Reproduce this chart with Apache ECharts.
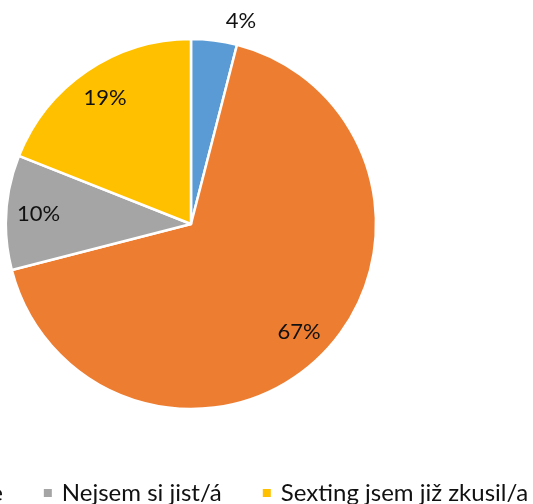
<!DOCTYPE html>
<html><head><meta charset="utf-8">
<script src="https://cdn.jsdelivr.net/npm/echarts@6/dist/echarts.min.js"></script>
<style>html,body{margin:0;padding:0;background:#fff}#c{width:533px;height:504px}</style>
</head><body><div id="c"></div>
<script>
const categories = ['Ano', 'Ne', 'Nejsem si jist/á', 'Sexting jsem již zkusil/a'];
const values = [4, 67, 10, 19];
const colors = ['#5B9BD5', '#ED7D31', '#A5A5A5', '#FFC000'];

const FONT = 'Lato';
const R = 185;
const TXT = '#111111';
const chart = echarts.init(document.getElementById('c'), null, {renderer: 'canvas'});
chart.setOption({
  animation: false,
  color: colors,
  legend: {
    data: categories,
    left: -150, top: 481, padding: 0,
    icon: 'rect', itemWidth: 10, itemHeight: 10, itemGap: 39,
    textStyle: {fontFamily: FONT, fontSize: 24, color: TXT, padding: [0, 0, 0, 4]}
  },
  series: [{
    type: 'pie',
    center: [191, 224], radius: [0, R],
    startAngle: 90, clockwise: true,
    itemStyle: {borderColor: '#fff', borderWidth: 2.5},
    label: {show: false},
    labelLine: {show: false},
    emphasis: {disabled: true},
    data: categories.map((n, i) => ({
      name: n, value: values[i],
      label: i === 0 ? {show: true, position: 'outside', formatter: '{d}%', fontFamily: FONT, fontSize: 22, color: TXT} : {show: false},
      labelLine: i === 0 ? {show: false, length: 20, length2: 4} : {show: false}
    }))
  }, {
    type: 'pie',
    center: [191, 224], radius: [0, R * 1.62],
    startAngle: 90, clockwise: true,
    silent: true,
    itemStyle: {color: 'rgba(0,0,0,0)', borderWidth: 0},
    label: {show: true, position: 'inside', formatter: '{d}%', fontFamily: FONT, fontSize: 22, color: TXT},
    labelLine: {show: false},
    emphasis: {disabled: true},
    legendHoverLink: false,
    data: categories.map((n, i) => ({name: n + ' ', value: values[i], label: {show: i !== 0}}))
  }]
});
</script></body></html>
